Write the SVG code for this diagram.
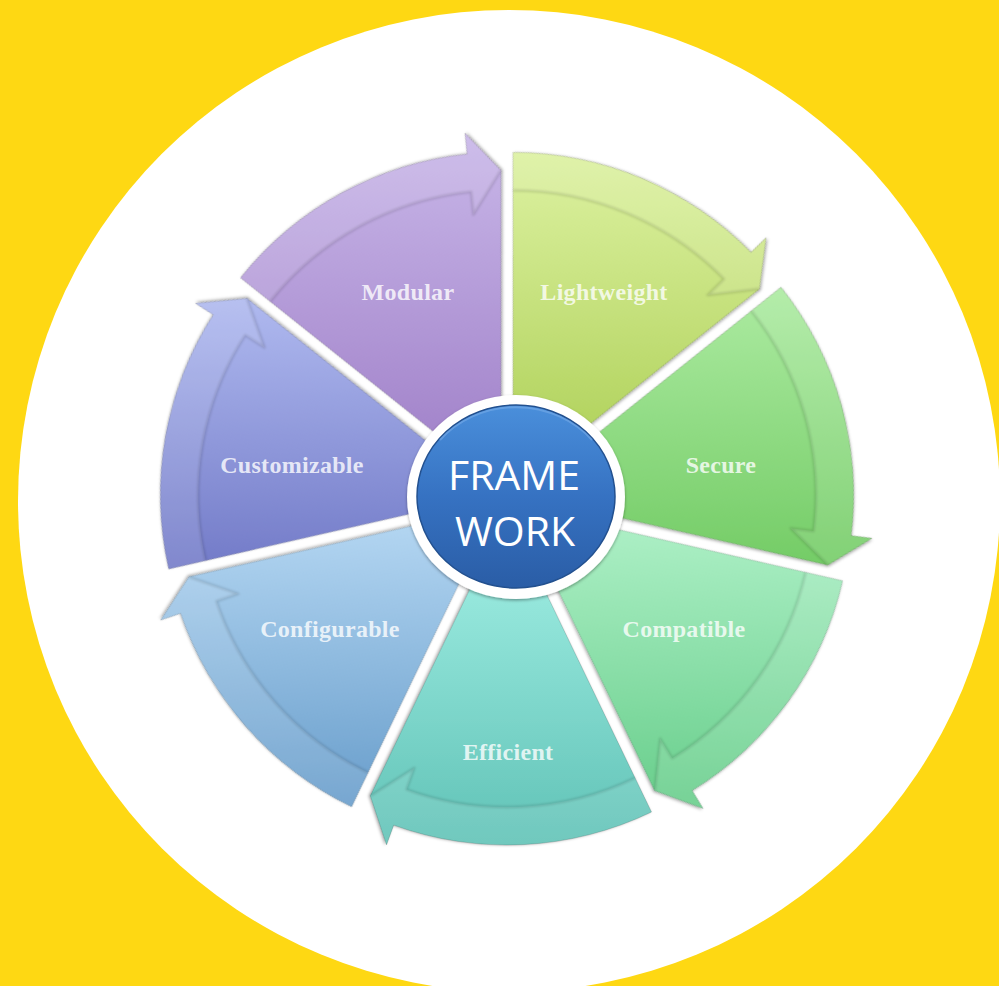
<svg xmlns="http://www.w3.org/2000/svg" width="999" height="986" viewBox="0 0 999 986">
  <style>
    .lbl { font-family: "Liberation Serif", "DejaVu Serif", serif; font-weight: bold; font-size: 24px; letter-spacing: 0.3px; fill: #ffffff; fill-opacity: 0.8; text-anchor: middle; }
    .hub { font-family: "Open Sans", "Liberation Sans", sans-serif; font-size: 41px; fill: #ffffff; text-anchor: middle; }
    .band { fill: #ffffff; fill-opacity: 0.1; }
    .bandEdge { fill: none; stroke: #000000; stroke-opacity: 0.13; stroke-width: 2.5; stroke-linejoin: round; }
    .segOutline { stroke: #000000; stroke-opacity: 0.15; stroke-width: 1; }
  </style>
  <defs>
    <filter id="shadow" x="-15%" y="-15%" width="130%" height="130%">
      <feDropShadow dx="0" dy="1.5" stdDeviation="1.8" flood-color="#000" flood-opacity="0.35"/>
    </filter>
    <filter id="soft" x="-10%" y="-10%" width="120%" height="120%">
      <feGaussianBlur stdDeviation="1"/>
    </filter>
    <path id="seg" d="M0 0 L300.02 -144.48 A333 333 0 0 1 313.12 113.35 L332.87 120.49 L283.81 136.67 Z"/>
    <path id="band" d="M265.79 -128 L300.02 -144.48 A333 333 0 0 1 313.12 113.35 L332.87 120.49 L283.81 136.67 L255.76 92.58 L277.39 100.41 A295 295 0 0 0 265.79 -128 Z"/>
    <path id="bandEdge" d="M265.79 -128 A295 295 0 0 1 277.39 100.41 L255.76 92.58 L283.81 136.67"/>
    <linearGradient id="gMod" gradientUnits="userSpaceOnUse" gradientTransform="rotate(115.714)" x1="0" y1="-348" x2="0" y2="-40">
      <stop offset="0" stop-color="#C8B6E8"/><stop offset="1" stop-color="#A283CA"/>
    </linearGradient>
    <linearGradient id="gLig" gradientUnits="userSpaceOnUse" gradientTransform="rotate(64.286)" x1="0" y1="-330" x2="0" y2="-50">
      <stop offset="0" stop-color="#DCF1A0"/><stop offset="1" stop-color="#B2D35E"/>
    </linearGradient>
    <linearGradient id="gSec" gradientUnits="userSpaceOnUse" gradientTransform="rotate(12.857)" x1="0" y1="-210" x2="0" y2="80">
      <stop offset="0" stop-color="#ADEBA2"/><stop offset="1" stop-color="#72CB64"/>
    </linearGradient>
    <linearGradient id="gCom" gradientUnits="userSpaceOnUse" gradientTransform="rotate(-38.571)" x1="0" y1="20" x2="0" y2="315">
      <stop offset="0" stop-color="#ACEFC5"/><stop offset="1" stop-color="#64CC88"/>
    </linearGradient>
    <linearGradient id="gEff" gradientUnits="userSpaceOnUse" gradientTransform="rotate(-90)" x1="0" y1="75" x2="0" y2="335">
      <stop offset="0" stop-color="#97E8DD"/><stop offset="1" stop-color="#60C2B6"/>
    </linearGradient>
    <linearGradient id="gCnf" gradientUnits="userSpaceOnUse" gradientTransform="rotate(-141.429)" x1="0" y1="20" x2="0" y2="300">
      <stop offset="0" stop-color="#B2D5F1"/><stop offset="1" stop-color="#689DCB"/>
    </linearGradient>
    <linearGradient id="gCus" gradientUnits="userSpaceOnUse" gradientTransform="rotate(-192.857)" x1="0" y1="-195" x2="0" y2="80">
      <stop offset="0" stop-color="#AFB9EF"/><stop offset="1" stop-color="#7179C7"/>
    </linearGradient>
    <linearGradient id="gHub" x1="0" y1="0" x2="0" y2="1">
      <stop offset="0" stop-color="#4A8FDB"/><stop offset="0.5" stop-color="#3672C2"/><stop offset="1" stop-color="#2A5DA6"/>
    </linearGradient>
  </defs>

  <rect x="0" y="0" width="999" height="986" fill="#FED813"/>
  <circle cx="509" cy="501" r="491" fill="#ffffff"/>

  <g id="connectors"></g>

  <g id="modular">
    <g transform="translate(500.93 485.39) rotate(-115.714)">
      <use href="#seg" fill="url(#gMod)" class="segOutline" filter="url(#shadow)"/>
      <use href="#band" class="band"/>
      <use href="#bandEdge" class="bandEdge" filter="url(#soft)"/>
    </g>
    <text class="lbl" x="408" y="300">Modular</text>
  </g>

  <g id="lightweight">
    <g transform="translate(513.07 485.39) rotate(-64.286)">
      <use href="#seg" fill="url(#gLig)" class="segOutline" filter="url(#shadow)"/>
      <use href="#band" class="band"/>
      <use href="#bandEdge" class="bandEdge" filter="url(#soft)"/>
    </g>
    <text class="lbl" x="604" y="300">Lightweight</text>
  </g>

  <g id="secure">
    <g transform="translate(520.65 494.88) rotate(-12.857)">
      <use href="#seg" fill="url(#gSec)" class="segOutline" filter="url(#shadow)"/>
      <use href="#band" class="band"/>
      <use href="#bandEdge" class="bandEdge" filter="url(#soft)"/>
    </g>
    <text class="lbl" x="721" y="473">Secure</text>
  </g>

  <g id="compatible">
    <g transform="translate(517.95 506.73) rotate(38.571)">
      <use href="#seg" fill="url(#gCom)" class="segOutline" filter="url(#shadow)"/>
      <use href="#band" class="band"/>
      <use href="#bandEdge" class="bandEdge" filter="url(#soft)"/>
    </g>
    <text class="lbl" x="684" y="637">Compatible</text>
  </g>

  <g id="efficient">
    <g transform="translate(507 512) rotate(90)">
      <use href="#seg" fill="url(#gEff)" class="segOutline" filter="url(#shadow)"/>
      <use href="#band" class="band"/>
      <use href="#bandEdge" class="bandEdge" filter="url(#soft)"/>
    </g>
    <text class="lbl" x="508" y="760">Efficient</text>
  </g>

  <g id="configurable">
    <g transform="translate(496.05 506.73) rotate(141.429)">
      <use href="#seg" fill="url(#gCnf)" class="segOutline" filter="url(#shadow)"/>
      <use href="#band" class="band"/>
      <use href="#bandEdge" class="bandEdge" filter="url(#soft)"/>
    </g>
    <text class="lbl" x="330" y="637">Configurable</text>
  </g>

  <g id="customizable">
    <g transform="translate(493.35 494.88) rotate(192.857)">
      <use href="#seg" fill="url(#gCus)" class="segOutline" filter="url(#shadow)"/>
      <use href="#band" class="band"/>
      <use href="#bandEdge" class="bandEdge" filter="url(#soft)"/>
    </g>
    <text class="lbl" x="292" y="473">Customizable</text>
  </g>

  <g id="framework">
    <ellipse cx="516" cy="497" rx="109" ry="102" fill="#ffffff" filter="url(#shadow)"/>
    <ellipse cx="516" cy="496.5" rx="99" ry="91.5" fill="url(#gHub)" stroke="#22508F" stroke-width="1.5"/>
    <path d="M440 440 A99 91.5 0 0 1 592 440" fill="none" stroke="#7FB2EC" stroke-opacity="0.5" stroke-width="2"/>
    <text class="hub" x="514" y="490">FRAME</text>
    <text class="hub" x="515" y="546">WORK</text>
  </g>
</svg>
